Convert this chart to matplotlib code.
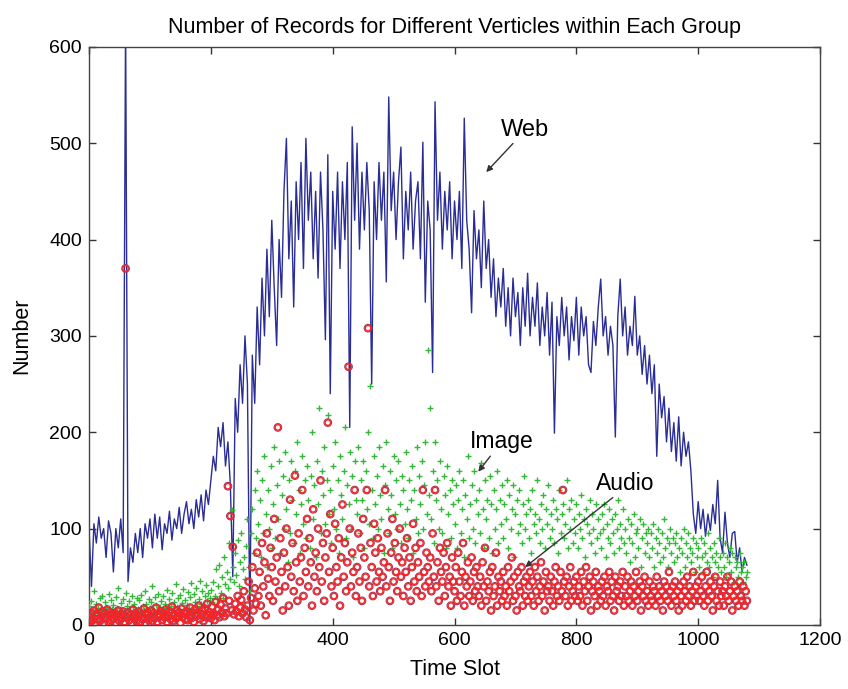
import numpy as np
import matplotlib
matplotlib.use('Agg')
import matplotlib.pyplot as plt

plt.rcParams['font.family'] = ['Liberation Sans', 'DejaVu Sans']

# Web records, one value every 4 time slots (0..1080)
web_number = [
    100, 40, 105, 85, 112, 90, 100, 70, 108, 95,
    55, 100, 80, 110, 75, 630, 45, 80, 65, 95,
    75, 100, 70, 105, 90, 110, 80, 115, 90, 112,
    78, 105, 95, 118, 88, 110, 100, 122, 95, 115,
    128, 105, 120, 100, 130, 112, 135, 108, 140, 125,
    150, 175, 160, 205, 185, 210, 165, 190, 145, 50,
    235, 200, 270, 230, 300, 250, 0, 280, 230, 330,
    270, 360, 300, 390, 320, 420, 350, 290, 400, 340,
    450, 505, 380, 440, 330, 460, 400, 480, 370, 505,
    420, 470, 380, 450, 360, 470, 410, 296, 488, 240,
    450, 390, 470, 370, 460, 400, 480, 205, 517, 420,
    500, 390, 470, 410, 480, 430, 250, 460, 400, 480,
    420, 470, 356, 548, 430, 470, 400, 460, 496, 380,
    450, 410, 470, 390, 440, 460, 380, 501, 335, 440,
    410, 262, 543, 420, 470, 390, 450, 410, 460, 380,
    440, 400, 450, 370, 526, 420, 390, 324, 430, 380,
    410, 350, 440, 370, 400, 340, 380, 320, 360, 330,
    370, 310, 350, 300, 360, 320, 345, 290, 350, 310,
    365, 300, 340, 310, 355, 290, 330, 300, 345, 280,
    335, 199, 320, 290, 340, 300, 330, 275, 320, 295,
    340, 280, 330, 300, 320, 270, 262, 315, 290, 330,
    359, 300, 320, 280, 310, 290, 195, 320, 359, 300,
    330, 280, 310, 290, 341, 280, 300, 260, 290, 250,
    280, 240, 270, 175, 250, 215, 237, 190, 225, 180,
    210, 170, 216, 165, 200, 175, 190, 160, 115, 95,
    128, 100, 120, 92, 115, 98, 125, 105, 150, 90,
    75, 117, 85, 70, 95, 97, 65, 80, 55, 70,
    62,
]

# Image records, one value every 2 time slots (0..1080)
image_number = [
    20, 8, 25, 15, 35, 12, 22, 18, 10, 28, 16, 30, 9, 24, 19, 14, 32, 11, 26, 17,
    21, 13, 29, 18, 38, 10, 23, 16, 27, 12, 33, 20, 15, 25, 9, 30, 19, 22, 14, 28,
    17, 26, 12, 31, 20, 15, 35, 22, 11, 27, 18, 24, 40, 13, 29, 21, 16, 32, 19, 25,
    14, 30, 22, 18, 36, 12, 27, 20, 33, 16, 24, 42, 19, 28, 15, 31, 23, 37, 17, 26,
    21, 34, 18, 29, 44, 16, 32, 24, 38, 20, 27, 46, 22, 35, 19, 30, 41, 25, 33, 28,
    36, 24, 45, 30, 58, 27, 40, 62, 33, 50, 28, 70, 42, 55, 38, 85, 48, 119, 60, 45,
    75, 52, 88, 40, 65, 95, 58, 70, 48, 82, 110, 60, 35, 95, 120, 75, 140, 90, 160, 105,
    130, 70, 150, 95, 175, 115, 60, 140, 100, 165, 80, 125, 185, 90, 145, 110, 170, 75, 135, 155,
    100, 180, 120, 65, 150, 95, 170, 130, 85, 160, 115, 190, 140, 75, 125, 175, 105, 150, 90, 165,
    130, 80, 155, 200, 110, 145, 70, 170, 125, 225, 95, 160, 135, 185, 105, 150, 218, 115, 140, 85,
    165, 120, 190, 100, 150, 75, 175, 135, 110, 160, 205, 90, 145, 125, 180, 100, 155, 70, 170, 130,
    115, 185, 95, 150, 130, 170, 80, 160, 120, 200, 105, 248, 140, 90, 175, 125, 155, 100, 185, 135,
    110, 165, 75, 145, 190, 120, 95, 160, 135, 80, 175, 115, 150, 100, 170, 125, 85, 155, 140, 105,
    180, 120, 90, 150, 130, 165, 75, 140, 110, 185, 95, 155, 125, 170, 100, 145, 190, 115, 285, 135,
    225, 110, 160, 85, 190, 130, 150, 100, 170, 120, 95, 155, 135, 80, 165, 115, 140, 90, 150, 125,
    105, 145, 80, 130, 160, 95, 120, 150, 70, 135, 110, 175, 90, 125, 145, 100, 160, 85, 130, 115,
    140, 95, 168, 120, 80, 150, 110, 130, 90, 155, 125, 75, 140, 100, 120, 160, 85, 130, 105, 145,
    90, 125, 110, 150, 80, 135, 100, 120, 145, 70, 115, 130, 95, 140, 105, 85, 125, 155, 100, 115,
    130, 90, 120, 75, 140, 105, 115, 95, 150, 110, 85, 125, 100, 135, 80, 120, 105, 145, 90, 115,
    100, 130, 85, 120, 110, 75, 140, 95, 115, 125, 90, 105, 150, 80, 120, 100, 130, 85, 110, 95,
    125, 80, 115, 100, 135, 90, 110, 70, 120, 105, 95, 130, 85, 115, 100, 75, 125, 90, 110, 95,
    80, 115, 100, 125, 70, 105, 90, 120, 85, 110, 95, 75, 115, 100, 130, 80, 105, 90, 120, 85,
    100, 75, 110, 90, 65, 105, 85, 115, 70, 95, 100, 80, 110, 60, 90, 105, 75, 95, 85, 100,
    70, 95, 80, 105, 60, 90, 75, 100, 85, 65, 95, 70, 110, 80, 90, 60, 85, 100, 75, 90,
    65, 85, 95, 70, 80, 55, 90, 75, 100, 60, 85, 70, 95, 80, 65, 75, 90, 55, 85, 70,
    80, 60, 90, 70, 55, 85, 75, 65, 95, 60, 80, 70, 50, 85, 65, 75, 60, 90, 70, 55,
    75, 60, 85, 50, 70, 65, 80, 55, 75, 45, 70, 60, 65, 50, 75, 55, 60, 45, 65, 50,
    55,
]

# Audio records, one value every 2 time slots (0..1080)
audio_number = [
    8, 3, 12, 5, 15, 2, 10, 6, 18, 4, 9, 14, 1, 11, 7, 16, 3, 13, 5, 10,
    6, 12, 2, 9, 15, 4, 11, 7, 14, 3, 370, 8, 13, 5, 10, 2, 16, 7, 12, 4,
    9, 14, 3, 11, 6, 17, 2, 10, 13, 5, 8, 15, 4, 12, 7, 18, 3, 11, 9, 14,
    5, 12, 8, 16, 3, 10, 14, 6, 19, 4, 11, 7, 15, 9, 13, 2, 17, 8, 12, 6,
    14, 5, 10, 18, 7, 13, 3, 16, 9, 12, 20, 6, 11, 15, 4, 17, 8, 22, 10, 13,
    7, 19, 12, 5, 24, 10, 16, 8, 21, 13, 28, 9, 17, 12, 144, 25, 113, 15, 81, 11,
    22, 14, 30, 9, 18, 26, 12, 35, 16, 8, 20, 45, 5, 28, 60, 15, 38, 22, 75, 30,
    55, 20, 85, 40, 65, 10, 95, 48, 30, 80, 60, 25, 110, 45, 70, 205, 35, 90, 55, 15,
    75, 40, 100, 60, 20, 130, 50, 85, 35, 155, 65, 25, 95, 45, 70, 140, 30, 80, 55, 110,
    40, 90, 65, 20, 120, 50, 75, 35, 100, 60, 150, 45, 85, 25, 70, 95, 210, 55, 115, 40,
    80, 30, 105, 60, 45, 90, 20, 70, 125, 50, 85, 35, 65, 268, 100, 40, 75, 55, 140, 30,
    60, 95, 45, 80, 25, 110, 70, 50, 140, 308, 40, 85, 60, 30, 105, 75, 45, 90, 55, 35,
    80, 50, 65, 140, 40, 95, 60, 25, 75, 110, 45, 85, 55, 35, 70, 100, 50, 65, 30, 80,
    55, 90, 40, 70, 25, 60, 105, 45, 80, 35, 65, 50, 85, 30, 140, 55, 40, 75, 60, 45,
    70, 35, 95, 50, 140, 40, 65, 25, 80, 55, 45, 75, 30, 60, 85, 40, 50, 20, 70, 45,
    35, 60, 25, 75, 45, 30, 55, 85, 20, 50, 40, 65, 30, 45, 70, 25, 55, 35, 60, 40,
    30, 50, 20, 65, 40, 80, 25, 45, 35, 55, 15, 60, 30, 40, 75, 20, 50, 35, 45, 25,
    55, 30, 40, 20, 60, 35, 45, 70, 25, 50, 30, 15, 55, 40, 35, 60, 20, 45, 30, 50,
    25, 40, 55, 30, 45, 20, 60, 35, 50, 25, 40, 65, 30, 45, 15, 55, 35, 40, 25, 50,
    35, 20, 45, 60, 30, 40, 25, 55, 35, 140, 45, 30, 50, 20, 40, 60, 25, 35, 45, 30,
    50, 25, 40, 30, 55, 20, 45, 35, 60, 25, 40, 50, 15, 35, 45, 30, 55, 20, 40, 35,
    25, 45, 30, 50, 20, 40, 35, 55, 25, 45, 30, 15, 50, 35, 40, 25, 45, 30, 55, 20,
    40, 30, 50, 25, 35, 45, 20, 40, 30, 55, 25, 35, 45, 15, 40, 30, 50, 25, 35, 20,
    45, 30, 25, 40, 35, 20, 50, 30, 40, 25, 35, 15, 45, 30, 40, 25, 55, 35, 20, 40,
    30, 45, 25, 35, 15, 40, 30, 20, 45, 35, 25, 50, 30, 40, 20, 35, 55, 25, 40, 30,
    45, 25, 35, 50, 30, 20, 40, 55, 25, 35, 45, 30, 15, 40, 50, 25, 35, 20, 45, 30,
    35, 20, 40, 30, 50, 25, 35, 45, 15, 30, 40, 25, 35, 20, 45, 30, 25, 40, 20, 35,
    25,
]

web_slot = np.arange(len(web_number)) * 4
image_slot = np.arange(len(image_number)) * 2
audio_slot = np.arange(len(audio_number)) * 2

fig = plt.figure(figsize=(8.48, 6.89), dpi=100)
ax = fig.add_axes([0.105, 0.093, 0.862, 0.839])

ax.plot(web_slot, web_number, color='#2a2d96', linewidth=1.0, zorder=2)
ax.scatter(image_slot, image_number, marker='+', s=18, color='#35b83a', linewidths=1.0, zorder=3)
ax.scatter(audio_slot, audio_number, marker='o', s=30, facecolors='none',
           edgecolors='#a03858', linewidths=0.8, zorder=4)
ax.scatter(audio_slot, audio_number, marker='o', s=16, facecolors='none',
           edgecolors='#ff2222', linewidths=1.0, zorder=4)

ax.set_xlim(0, 1200)
ax.set_ylim(0, 600)
ax.set_xticks(range(0, 1201, 200))
ax.set_yticks(range(0, 601, 100))
ax.tick_params(direction='in', length=5, width=1, top=True, right=True,
               labelsize=14, pad=5, colors='#333333', labelcolor='black')
for sp in ax.spines.values():
    sp.set_color('#444444')
    sp.set_linewidth(1.0)

ax.set_title('Number of Records for Different Verticles within Each Group', fontsize=15.5, pad=10)
ax.set_xlabel('Time Slot', fontsize=15.5, labelpad=7)
ax.set_ylabel('Number', fontsize=15.5, labelpad=12)

arrow = dict(arrowstyle='-|>', color='#333333', lw=1.0, mutation_scale=9, shrinkA=0, shrinkB=0)
ax.annotate('Web', xy=(652, 470), xytext=(716, 514), fontsize=17,
            ha='center', va='center', arrowprops=dict(arrow, relpos=(0.3, 0.0)))
ax.annotate('Image', xy=(639, 159), xytext=(678, 190), fontsize=16.5,
            ha='center', va='center', arrowprops=dict(arrow, relpos=(0.35, 0.0)))
ax.annotate('Audio', xy=(716, 60), xytext=(880, 147), fontsize=16.5,
            ha='center', va='center', arrowprops=dict(arrow, relpos=(0.35, 0.0)))

fig.savefig('out.png', dpi=100, facecolor='white')
